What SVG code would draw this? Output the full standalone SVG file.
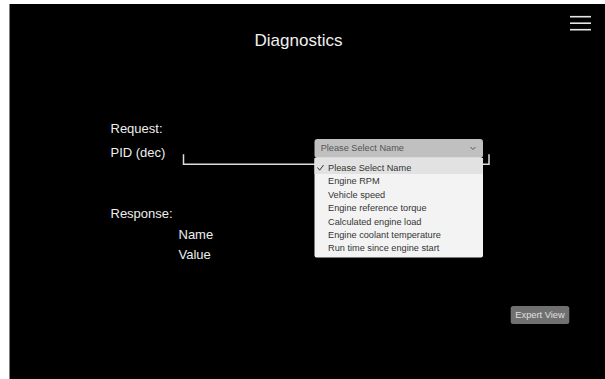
<svg xmlns="http://www.w3.org/2000/svg" width="605" height="379" viewBox="0 0 605 379">
<style>
text{font-family:"Liberation Sans",Arial,sans-serif}
.lbl{font-size:13px;fill:#eeeeee}
.item{font-size:9.2px;fill:#333333}
.line{stroke:#dddddd;stroke-width:1.5;fill:none}
</style>
<rect x="0" y="0" width="605" height="379" fill="#ffffff"/>
<rect x="9.5" y="4" width="595.5" height="375" fill="#000000"/>
<g id="title"><text x="298.5" y="45.7" text-anchor="middle" style="font-size:17px;fill:#f0f0f0">Diagnostics</text></g>
<g id="menu" stroke="#e6e6e6" stroke-width="1.6">
<line x1="570" y1="16.7" x2="591" y2="16.7"/>
<line x1="570" y1="23.2" x2="591" y2="23.2"/>
<line x1="570" y1="29.7" x2="591" y2="29.7"/>
</g>
<g id="request-label"><text class="lbl" x="110.5" y="132.7">Request:</text></g>
<g id="pid-label"><text class="lbl" x="110.5" y="157">PID (dec)</text></g>
<g id="pid-input"><polyline class="line" points="183.5,154.3 183.5,164.3 489,164.3 489,154.3"/></g>
<g id="response-label"><text class="lbl" x="110.5" y="217.7">Response:</text></g>
<g id="name-label"><text class="lbl" x="178.5" y="239.3">Name</text></g>
<g id="value-label"><text class="lbl" x="178.5" y="259">Value</text></g>
<g id="dropdown">
<rect x="314.5" y="139" width="168.5" height="19" rx="3" fill="#c0c0c0"/>
<text x="320.7" y="151.3" style="font-size:9.2px;fill:#555555">Please Select Name</text>
<polyline points="470.5,147 473,149.5 475.5,147" fill="none" stroke="#555555" stroke-width="1"/>
</g>
<g id="dropdown-list">
<rect x="314.5" y="157.5" width="168.5" height="100" rx="2" fill="#f3f3f3"/>
<rect x="314.5" y="158" width="168.5" height="16" fill="#e2e2e2"/>
<polyline points="317.5,167.5 319.7,170.2 323.5,165" fill="none" stroke="#333333" stroke-width="1"/>
<text class="item" x="328" y="171">Please Select Name</text>
<text class="item" x="328" y="184.4">Engine RPM</text>
<text class="item" x="328" y="197.8">Vehicle speed</text>
<text class="item" x="328" y="211.2">Engine reference torque</text>
<text class="item" x="328" y="224.6">Calculated engine load</text>
<text class="item" x="328" y="238">Engine coolant temperature</text>
<text class="item" x="328" y="251.4">Run time since engine start</text>
</g>
<g id="expert-view">
<rect x="510.7" y="306" width="58.6" height="18" rx="2.5" fill="#707070"/>
<text x="540" y="318.3" text-anchor="middle" style="font-size:9.3px;fill:#e0e0e0">Expert View</text>
</g>
</svg>
